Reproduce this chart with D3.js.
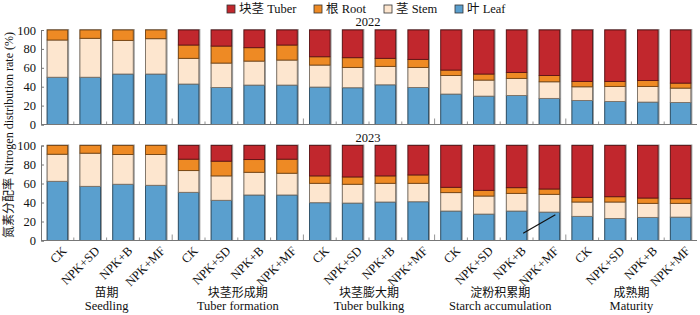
<!DOCTYPE html>
<html>
<head>
<meta charset="utf-8">
<script src="https://cdn.jsdelivr.net/npm/d3@7/dist/d3.min.js"></script>
<style>
  body { margin: 0; background: #fff; }
  svg text { font-family: "Liberation Serif", "Noto Sans CJK SC", serif; fill: #111; }
</style>
</head>
<body>
<svg width="700" height="315"></svg>
<script>
// treatments and growth stages
var treatments = ["CK", "NPK+SD", "NPK+B", "NPK+MF"];
var stagesCn = ["苗期", "块茎形成期", "块茎膨大期", "淀粉积累期", "成熟期"];
var stagesEn = ["Seedling", "Tuber formation", "Tuber bulking", "Starch accumulation", "Maturity"];
var years = ["2022", "2023"];
var yTicks = [0, 20, 40, 60, 80, 100];

var organs = ["leaf", "stem", "root", "tuber"];
var legendLabels = { tuber: "块茎 Tuber", root: "根 Root", stem: "茎 Stem", leaf: "叶 Leaf" };
var colors = { tuber: "#c1272d", root: "#ee8a24", stem: "#fde6cf", leaf: "#5a9fce" };

// nitrogen distribution (%), 20 bars per year (5 stages x 4 treatments)
var leaf2022  = [50, 50, 53.4, 53.4, 42.8, 39.2, 41.7, 41.7, 39.6, 38.9, 42, 39.2, 32.2, 30, 30.7, 27.6, 25.4, 24.4, 23.7, 23.3];
var stem2022  = [39.4, 41.2, 35.6, 37.4, 27.2, 25.8, 25.4, 26.5, 23.3, 21.5, 19.5, 21.2, 19.7, 17, 18.1, 17.6, 14.5, 15.9, 16.6, 15.2];
var root2022  = [10.6, 8.8, 11, 9.2, 14.1, 18, 14.2, 15.9, 8.8, 10.3, 8.5, 8.5, 5.7, 6.4, 6.3, 6.7, 5.7, 5.3, 6.3, 5.3];
var tuber2022 = [0, 0, 0, 0, 15.9, 17, 18.7, 15.9, 28.3, 29.3, 30, 31.1, 42.4, 46.6, 44.9, 48.1, 54.4, 54.4, 53.4, 56.2];

var leaf2023  = [62.3, 57, 59.2, 58.1, 50.7, 42.3, 47.9, 47.9, 39.8, 39.4, 40.5, 40.8, 31, 27.8, 31, 29.9, 25.4, 23.2, 24.3, 24.6];
var stem2023  = [28.5, 34.9, 31.3, 32.4, 22.9, 25.7, 23.9, 22.9, 20.4, 19.8, 19.7, 19.4, 19.4, 19, 18.6, 18.7, 15.1, 17.3, 14.8, 14.5];
var root2023  = [9.2, 8.1, 9.5, 9.5, 12, 15.5, 13.4, 14.8, 7.8, 7.7, 7.8, 8.8, 5.6, 6, 6, 5.6, 4.9, 5.6, 5.6, 4.9];
var tuber2023 = [0, 0, 0, 0, 14.4, 16.5, 14.8, 14.4, 32, 33.1, 32, 31, 44, 47.2, 44.4, 45.8, 54.6, 53.9, 55.3, 56];

// stray stroke in the 2023 panel: [bar index, fraction across bar, value]
var strayLine = [[14, 0.82, 7.7], [15, 0.79, 27]];

function buildRows(l, s, r, t) {
  return l.map(function(v, i) {
    return { idx: i, leaf: v, stem: s[i], root: r[i], tuber: t[i] };
  });
}
var yearData = [
  buildRows(leaf2022, stem2022, root2022, tuber2022),
  buildRows(leaf2023, stem2023, root2023, tuber2023)
];

var svg = d3.select("svg");
var left = 41, right = 697;
var panels = [{ top: 30, bottom: 124.5 }, { top: 145.5, bottom: 240.5 }];

var x = d3.scaleBand()
  .domain(d3.range(20))
  .range([left, right])
  .paddingInner(0.375)
  .paddingOuter(0.1875);
var step = x.step(), bw = x.bandwidth();

var stack = d3.stack().keys(organs);

panels.forEach(function(p, pi) {
  var y = d3.scaleLinear().domain([0, 100]).range([p.bottom, p.top]);
  var g = svg.append("g");
  var series = stack(yearData[pi]);

  // gray shadow outline for each bar
  g.selectAll("rect.shadow")
    .data(yearData[pi])
    .enter().append("rect").attr("class", "shadow")
    .attr("x", function(d) { return x(d.idx) - 0.5; })
    .attr("y", y(100) - 1)
    .attr("width", bw + 2)
    .attr("height", y(0) - y(100) + 1)
    .attr("fill", "#9a9a9a");

  g.selectAll("g.layer")
    .data(series)
    .enter().append("g").attr("class", "layer")
    .attr("fill", function(d) { return colors[d.key]; })
    .attr("stroke", function(d) { return d3.color(colors[d.key]).darker(2); })
    .attr("stroke-width", 0.9)
    .selectAll("rect")
    .data(function(d) { return d.filter(function(e) { return e[1] - e[0] > 0; }); })
    .enter().append("rect")
      .attr("x", function(d) { return x(d.data.idx); })
      .attr("y", function(d) { return y(d[1]); })
      .attr("width", bw)
      .attr("height", function(d) { return y(d[0]) - y(d[1]); });

  // y axis
  var yAxis = d3.axisLeft(y).tickValues(yTicks).tickSize(-3).tickPadding(5);
  var ya = g.append("g").attr("transform", "translate(" + left + ",0)").call(yAxis);
  ya.select(".domain").attr("stroke", "#777");
  ya.selectAll(".tick line").attr("stroke", "#777");
  ya.selectAll("text").attr("font-size", 12.5).style("font-family", "Liberation Serif");

  // x axis line with minor upward ticks
  g.append("line")
    .attr("x1", left).attr("x2", right)
    .attr("y1", y(0)).attr("y2", y(0))
    .attr("stroke", "#777").attr("stroke-width", 1.2);
  g.selectAll("line.minor")
    .data(d3.range(1, 20))
    .enter().append("line").attr("class", "minor")
    .attr("x1", function(i) { return x(i) - (step - bw) / 2; })
    .attr("x2", function(i) { return x(i) - (step - bw) / 2; })
    .attr("y1", y(0))
    .attr("y2", function(i) { return y(0) - (i % 4 === 0 ? 6 : 3); })
    .attr("stroke", "#777").attr("stroke-width", 0.8);

  // year title
  g.append("text")
    .attr("x", 368).attr("y", p.top - 4)
    .attr("text-anchor", "middle").attr("font-size", 12.5)
    .text(years[pi]);

  if (pi === 1) {
    g.append("line")
      .attr("x1", x(strayLine[0][0]) + bw * strayLine[0][1]).attr("y1", y(strayLine[0][2]))
      .attr("x2", x(strayLine[1][0]) + bw * strayLine[1][1]).attr("y2", y(strayLine[1][2]))
      .attr("stroke", "#111").attr("stroke-width", 1.2);

    // treatment labels
    g.selectAll("text.tlab")
      .data(d3.range(20))
      .enter().append("text").attr("class", "tlab")
      .attr("transform", function(i) {
        return "translate(" + (x(i) + bw / 2 + 7) + "," + (y(0) + 8) + ") rotate(-45)";
      })
      .attr("text-anchor", "end")
      .attr("dy", "0.35em")
      .attr("font-size", 12.5)
      .text(function(i) { return treatments[i % 4]; });

    // stage labels
    stagesCn.forEach(function(s, si) {
      var cx = (x(si * 4) + x(si * 4 + 3) + bw) / 2;
      g.append("text").attr("x", cx).attr("y", 297)
        .attr("text-anchor", "middle").attr("font-size", 12)
        .style("font-family", "'Noto Sans CJK SC'")
        .text(s);
      g.append("text").attr("x", cx).attr("y", 310)
        .attr("text-anchor", "middle").attr("font-size", 12.5)
        .text(stagesEn[si]);
    });
  }
});

// y axis title
svg.append("text")
  .attr("transform", "translate(13,135) rotate(-90)")
  .attr("text-anchor", "middle")
  .attr("font-size", 12)
  .text("氮素分配率 Nitrogen distribution rate (%)");

// legend
var legendOrder = ["tuber", "root", "stem", "leaf"];
var legendX = [227, 314, 384, 455];
var lg = svg.append("g");
legendOrder.forEach(function(k, i) {
  lg.append("rect")
    .attr("x", legendX[i]).attr("y", 5)
    .attr("width", 8).attr("height", 8)
    .attr("fill", colors[k])
    .attr("stroke", "#333").attr("stroke-width", 0.8);
  lg.append("text")
    .attr("x", legendX[i] + 12).attr("y", 13)
    .attr("font-size", 12.5)
    .text(legendLabels[k]);
});
</script>
</body>
</html>
